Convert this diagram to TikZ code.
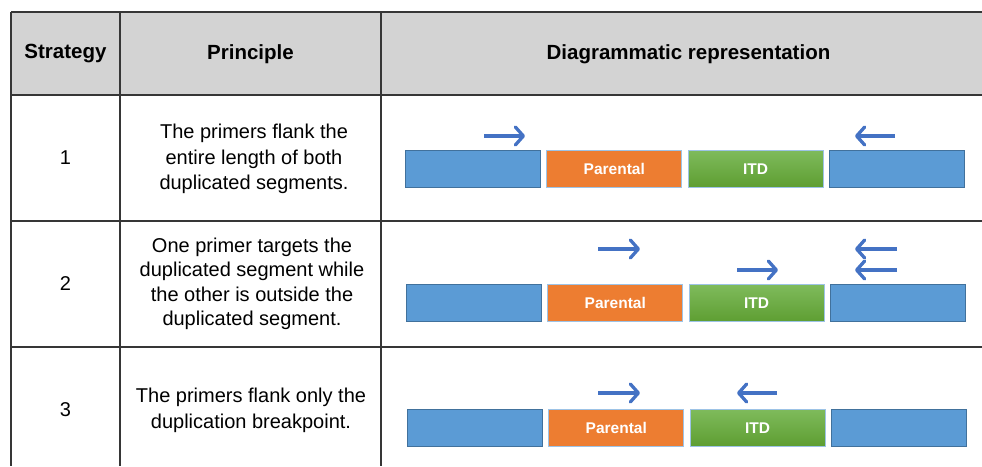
\documentclass[tikz,border=0pt]{standalone}
\usepackage{fontspec}
\setmainfont{Liberation Sans}
\usetikzlibrary{arrows.meta}
\definecolor{rule}{HTML}{363636}
\definecolor{head}{HTML}{D3D3D3}
\definecolor{flank}{HTML}{5B9BD5}
\definecolor{flankline}{HTML}{41719C}
\definecolor{parental}{HTML}{ED7D31}
\definecolor{itdtop}{HTML}{7FBB5C}
\definecolor{itdbot}{HTML}{5E9E32}
\definecolor{primer}{HTML}{4472C4}
\definecolor{edge}{HTML}{9DC3E6}

\begin{document}
\begin{tikzpicture}[x=1pt, y=-1pt,
  grid/.style={rule, line width=2pt},
  cell/.style={align=center, font=\fontsize{20}{25.5}\selectfont},
  hd/.style={cell, font=\fontsize{20.5}{25.5}\selectfont\bfseries},
  seg/.style={minimum width=135pt, minimum height=37pt, inner sep=0pt, anchor=west,
              text height=11pt, text depth=0pt,
              line width=1pt, font=\fontsize{15.5}{18}\selectfont\bfseries, text=white},
  fl/.style={seg, draw=flankline, fill=flank},
  pa/.style={seg, draw=edge, fill=parental},
  it/.style={seg, draw=edge, top color=itdtop, bottom color=itdbot},
  pr/.style={primer, line width=3.3pt, -{Straight Barb[length=8pt, width=18pt, round]}}]
\useasboundingbox (0,0) rectangle (982,466);
% table frame
\fill[head] (11,12) rectangle (982,95);
\foreach \y in {12,95,221,347}
  \draw[grid] (11,\y) -- (982,\y);
\foreach \x in {11,120,381}
  \draw[grid] (\x,12) -- (\x,466);
% header
\node[hd] (h1) at (65.5,54) {Strategy};
\node[hd] (h2) at (250.5,54) {Principle};
\node[hd] (h3) at (688.5,54) {Diagrammatic representation};
% strategies
\node[cell] (n1) at (65.5,158) {1};
\node[cell] (n2) at (65.5,284) {2};
\node[cell] (n3) at (65.5,410) {3};
\node[cell] (p1) at (254,159) {The primers flank the\\entire length of both\\duplicated segments.};
\node[cell, font=\fontsize{20}{24.5}\selectfont] (p2) at (252,284) {One primer targets the\\duplicated segment while\\the other is outside the\\duplicated segment.};
\node[cell] (p3) at (251,410.5) {The primers flank only the\\duplication breakpoint.};
% segments
\foreach \r/\x/\y in {1/405/168.5, 2/406/303, 3/407/427.5}
  \foreach \n/\s/\l [count=\i from 0] in {a/fl/{}, b/pa/Parental, c/it/ITD, d/fl/{}}
    \node[\s] (r\r\n) at (\x+\i*141.3,\y) {\l};
% primers
\coordinate (f1s) at (484,136);   \coordinate (f1e) at (525,136);
\coordinate (b1s) at (895,136);   \coordinate (b1e) at (855,136);
\coordinate (f2s) at (598,249);   \coordinate (f2e) at (640,249);
\coordinate (g2s) at (737,270);   \coordinate (g2e) at (778,270);
\coordinate (b2s) at (897,249);   \coordinate (b2e) at (855,249);
\coordinate (c2s) at (897,270);   \coordinate (c2e) at (855,270);
\coordinate (f3s) at (598,393);   \coordinate (f3e) at (640,393);
\coordinate (b3s) at (777,393);   \coordinate (b3e) at (737,393);
\foreach \a/\b in {f1s/f1e,b1s/b1e,f2s/f2e,g2s/g2e,b2s/b2e,c2s/c2e,f3s/f3e,b3s/b3e}
  \draw[pr] (\a) -- (\b);
\end{tikzpicture}
\end{document}
